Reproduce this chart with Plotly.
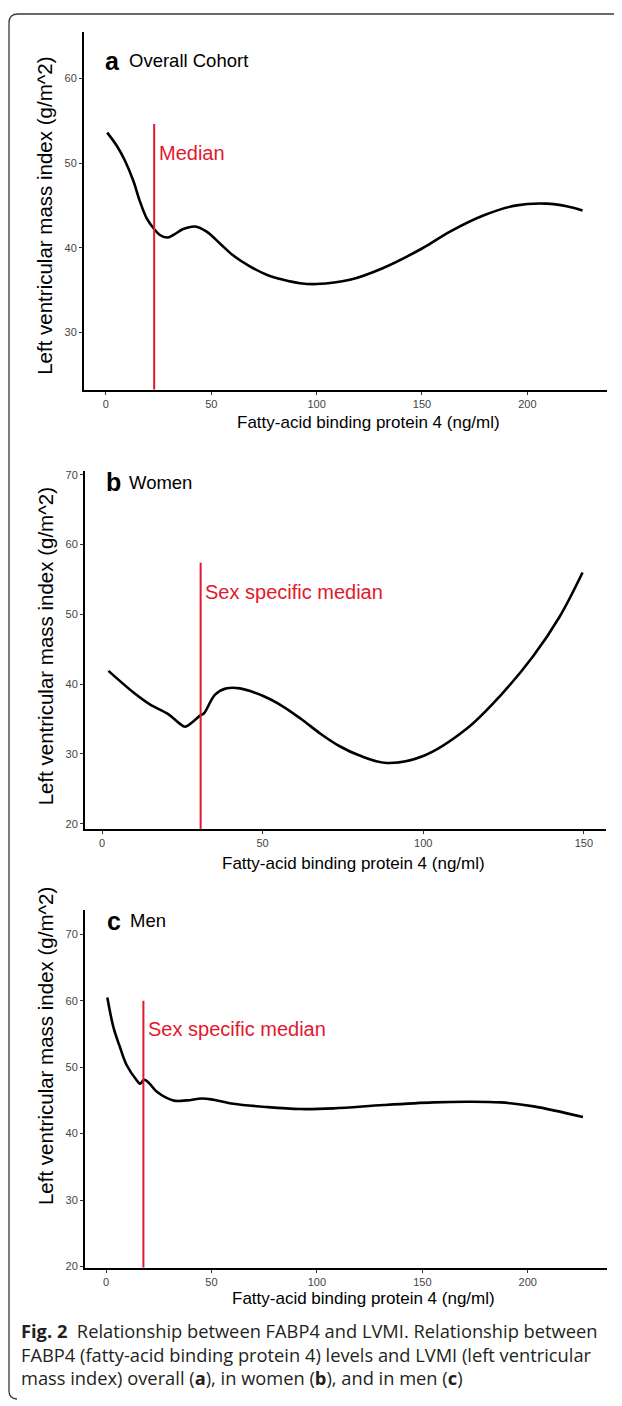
import plotly.graph_objects as go

# ---------------- data ----------------
# Panel a: overall cohort
xa = [0.6, 5, 9, 13, 16.1, 19.3, 22.9, 25.6, 29, 32, 36.7, 42.3, 47.8, 54.1, 60.3, 68.3,
      76.3, 84.2, 92.1, 100, 115.8, 131.6, 150, 163.3, 179.1, 194.9, 209, 218.6, 226.2]
ya = [53.6, 52.1, 50.3, 47.9, 45.5, 43.5, 42.2, 41.5, 41.2, 41.5, 42.2, 42.5, 41.9, 40.5, 39.1, 37.8,
      36.8, 36.2, 35.8, 35.7, 36.2, 37.6, 39.9, 41.9, 43.8, 45.0, 45.2, 44.9, 44.4]
median_a = 22.9
median_a_top = 54.6

# Panel b: women
xb = [2.0, 9.8, 14.9, 20.6, 24.3, 25.8, 28, 30.5, 31.7, 35.2, 38.8, 42.9, 50.2, 56, 62,
      68, 74, 80, 88.6, 100, 113.5, 123.9, 134.2, 142.5, 149.6]
yb = [41.9, 38.8, 37.1, 35.7, 34.3, 33.9, 34.5, 35.5, 35.8, 38.5, 39.4, 39.4, 38.3, 36.9, 35.0,
      32.9, 31.1, 29.8, 28.7, 29.7, 33.6, 38.3, 44.0, 49.7, 56.0]
median_b = 30.7
median_b_top = 57.4

# Panel c: men
xc = [0.6, 3.5, 6.6, 9.8, 14.6, 16.1, 18.0, 20.1, 24.1, 31.9, 38.3, 45.4, 51, 60.4, 76.3,
      92.1, 107.9, 131.6, 155.3, 171.2, 187, 202.8, 226.2]
yc = [60.5, 56.0, 53.0, 50.3, 48.0, 47.5, 48.1, 47.7, 46.3, 45.0, 45.0, 45.3, 45.1, 44.5, 44.0,
      43.7, 43.8, 44.3, 44.7, 44.8, 44.7, 44.1, 42.5]
median_c = 17.7
median_c_top = 60.0

xticks_ac = [0, 50, 100, 150, 200]
xticks_b = [0, 50, 100, 150]
yticks_a = [30, 40, 50, 60]
yticks_bc = [20, 30, 40, 50, 60, 70]

panel_letters = ["a", "b", "c"]
panel_names = ["Overall Cohort", "Women", "Men"]
median_labels = ["Median", "Sex specific median", "Sex specific median"]
x_title = "Fatty-acid binding protein 4 (ng/ml)"
y_title = "Left ventricular mass index (g/m^2)"
caption = [
    "<b>Fig. 2</b>  Relationship between FABP4 and LVMI. Relationship between",
    "FABP4 (fatty-acid binding protein 4) levels and LVMI (left ventricular",
    "mass index) overall (<b>a</b>), in women (<b>b</b>), and in men (<b>c</b>)",
]

RED = "#E2182E"
FONT = "Liberation Sans, Arial, sans-serif"

# the page body has an 8px margin: work in screen pixels and shift
OFF = 8
W, H = 622 - OFF, 1406 - OFF

# ---------------- layout geometry (screen pixels) ----------------
panels = [
    dict(x=xa, y=ya, med=median_a, medtop=median_a_top, xd=(84, 607), yd=(29, 389),
         xr=(-10.4, 237.8), yr=(23.2, 65.5), xt=xticks_ac, yt=yticks_a,
         title_y=58, letter_x=103, name_x=127, med_lab=(157, 151),
         xtitle=(368, 422), ytitle=(45, 214)),
    dict(x=xb, y=yb, med=median_b, medtop=median_b_top, xd=(85, 606), yd=(471, 831),
         xr=(-5.3, 156.9), yr=(19.2, 70.5), xt=xticks_b, yt=yticks_bc,
         title_y=482, letter_x=104, name_x=127, med_lab=(203, 592),
         xtitle=(353, 865), ytitle=(45, 647)),
    dict(x=xc, y=yc, med=median_c, medtop=median_c_top, xd=(85, 607), yd=(912, 1272),
         xr=(-10.0, 237.6), yr=(19.8, 73.7), xt=xticks_ac, yt=yticks_bc,
         title_y=923, letter_x=105, name_x=128, med_lab=(146, 1032),
         xtitle=(363, 1303), ytitle=(45, 1049)),
]


def px(x):
    return (x - OFF) / W


def py(y):
    return 1 - (y - OFF) / H


fig = go.Figure()
annotations = []
layout_axes = {}

for i, p in enumerate(panels):
    n = "" if i == 0 else str(i + 1)
    xa_name, ya_name = "x" + n, "y" + n
    fig.add_trace(go.Scatter(
        x=p["x"], y=p["y"], mode="lines", xaxis=xa_name, yaxis=ya_name,
        line=dict(color="black", width=2.6, shape="spline", smoothing=1.0),
        showlegend=False, hoverinfo="skip"))
    fig.add_trace(go.Scatter(
        x=[p["med"], p["med"]], y=[p["yr"][0], p["medtop"]], mode="lines",
        xaxis=xa_name, yaxis=ya_name, line=dict(color=RED, width=2),
        showlegend=False, hoverinfo="skip"))

    common = dict(showgrid=False, zeroline=False, showline=True, linecolor="black",
                  linewidth=2, ticks="outside", ticklen=3, tickwidth=1, tickcolor="#333333",
                  tickfont=dict(family=FONT, size=11, color="#444444"), fixedrange=True)
    layout_axes["xaxis" + n] = dict(common, domain=[px(p["xd"][0]), px(p["xd"][1])],
                                    range=list(p["xr"]), tickvals=p["xt"],
                                    anchor=ya_name)
    layout_axes["yaxis" + n] = dict(common, domain=[py(p["yd"][1]), py(p["yd"][0])],
                                    range=list(p["yr"]), tickvals=p["yt"],
                                    anchor=xa_name)

    # panel title
    annotations.append(dict(text="<b>" + panel_letters[i] + "</b>", x=px(p["letter_x"]),
                            y=py(p["title_y"]), xref="paper", yref="paper",
                            xanchor="left", yanchor="middle", showarrow=False,
                            font=dict(family=FONT, size=25, color="black")))
    annotations.append(dict(text=panel_names[i], x=px(p["name_x"]), y=py(p["title_y"]),
                            xref="paper", yref="paper", xanchor="left", yanchor="middle",
                            showarrow=False, font=dict(family=FONT, size=18.5, color="black")))
    # median label
    annotations.append(dict(text=median_labels[i], x=px(p["med_lab"][0]), y=py(p["med_lab"][1]),
                            xref="paper", yref="paper", xanchor="left", yanchor="middle",
                            showarrow=False, font=dict(family=FONT, size=20, color=RED)))
    # axis titles
    annotations.append(dict(text=x_title, x=px(p["xtitle"][0]), y=py(p["xtitle"][1]),
                            xref="paper", yref="paper", xanchor="center", yanchor="middle",
                            showarrow=False, font=dict(family=FONT, size=17, color="black")))
    annotations.append(dict(text=y_title, x=px(p["ytitle"][0]), y=py(p["ytitle"][1]),
                            xref="paper", yref="paper", xanchor="center", yanchor="middle",
                            textangle=-90, showarrow=False,
                            font=dict(family=FONT, size=20.5, color="black")))

# caption
for j, (line, yy) in enumerate(zip(caption, [1335, 1359, 1382])):
    annotations.append(dict(text=line, x=px(19), y=py(yy), xref="paper", yref="paper",
                            xanchor="left", yanchor="middle", showarrow=False,
                            font=dict(family="Open Sans, Noto Sans, sans-serif", size=18.3,
                                      color="#231F20")))

# frame (top & left with rounded corners)
frame_path = (f"M {px(630)},{py(11)} L {px(18)},{py(11)} Q {px(9)},{py(11)} {px(9)},{py(20)} "
              f"L {px(9)},{py(1396)} Q {px(9)},{py(1404)} {px(17)},{py(1404)}")

fig.update_layout(
    width=W, height=H,
    margin=dict(l=0, r=0, t=0, b=0),
    paper_bgcolor="white", plot_bgcolor="white",
    annotations=annotations,
    shapes=[dict(type="path", path=frame_path, xref="paper", yref="paper",
                 line=dict(color="#3a3a3a", width=1.3))],
    **layout_axes,
)

fig.write_html("out.html")
